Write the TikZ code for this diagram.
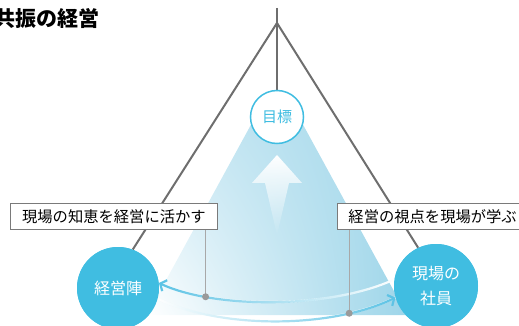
\documentclass[tikz,border=0pt]{standalone}
\usepackage{fontspec}
\setmainfont{Noto Sans CJK JP}
\usetikzlibrary{arrows.meta,fadings,shadings}
\definecolor{cy}{HTML}{40BDE1}
\definecolor{arcc}{HTML}{5CC3E5}
\definecolor{lineg}{HTML}{6E6E6E}
\definecolor{leadg}{HTML}{A8A8A8}
\definecolor{dotg}{HTML}{9A9A9A}
\definecolor{boxg}{HTML}{7A7A7A}
\definecolor{bUL}{HTML}{CCE9F4}
\definecolor{bUR}{HTML}{A2D7EA}
\definecolor{bLR}{HTML}{9DD5E9}
\tikzfading[name=fadeR, left color=transparent!0, middle color=transparent!20, right color=transparent!100]
\tikzfading[name=fadeL, left color=transparent!100, middle color=transparent!45, right color=transparent!0]
\tikzfading[name=fadeD, top color=transparent!0, middle color=transparent!25, bottom color=transparent!100]
\tikzset{
  tri/.style={draw=lineg, line width=2pt},
  labelbox/.style={draw=boxg, line width=0.9pt, fill=white, minimum height=26pt, inner xsep=10pt, inner ysep=0pt, font=\fontsize{15.3}{18}\selectfont, text=black},
  bigcirc/.style={circle, fill=cy, text=white, inner sep=0pt, font=\fontsize{16}{25}\selectfont, align=center},
  arcline/.style={line width=2.2pt},
  leader/.style={draw=leadg, line width=1pt},
  dotmark/.style={circle, fill=dotg, inner sep=0pt, minimum size=7pt}
}
\begin{document}
\begin{tikzpicture}[x=1pt,y=-1pt]
\useasboundingbox (0,0) rectangle (519,326);
% title (cut at the left edge as in the reference)
\node[anchor=west, inner sep=0pt, font=\fontsize{21}{24}\selectfont\bfseries] (title) at (-6,19) {共振の経営};
% coordinates
\coordinate (top) at (277,8);
\coordinate (apex) at (277,23);
% circles (placed first to get anchors; drawn later on top)
\path node[bigcirc, minimum size=82pt] (lc) at (118,288) {}
      node[bigcirc, minimum size=84pt] (rc) at (436,286) {}
      node[circle, minimum size=53pt, inner sep=0pt] (goal) at (277,117) {};
% beam
\shade[upper left=bUL, upper right=bUR, lower left=white, lower right=bLR]
  (259,110) -- (295,110) -- (407,315) -- (147,315) -- cycle;
% white up arrow in beam
\fill[white, path fading=fadeD]
  (277,155) -- (302,183) -- (289,183) -- (277,235) -- (265,183) -- (252,183) -- cycle;
% triangle lines
\draw[tri] (apex) -- (lc.69);
\draw[tri] (apex) -- (rc.115);
\draw[tri] (top) -- (goal.north);
% upper arc (towards management)
\draw[white, arcline] (rc.171) .. controls (330,309) and (215,309) .. (lc.7);
\draw[arcc, arcline, path fading=fadeR, -{Straight Barb[length=5pt,width=12pt]}]
  (rc.171) .. controls (330,309) and (215,309) .. coordinate[pos=0.77] (dotL) (lc.7);
% lower arc (towards field staff)
\draw[white, arcline] (lc.-15) .. controls (220,329) and (330,329) .. (rc.-164);
\draw[arcc, arcline, path fading=fadeL, -{Straight Barb[length=5pt,width=12pt]}]
  (lc.-15) .. controls (220,329) and (330,329) .. coordinate[pos=0.79] (dotR) (rc.-164);
% label boxes
\node[labelbox, anchor=west, minimum width=207pt] (lbox) at (10,216.5) {現場の知恵を経営に活かす};
\node[labelbox, anchor=west, inner xsep=11pt] (rbox) at (337,216.5) {経営の視点を現場が学ぶ};
% leaders and dots
\draw[leader] (lbox.south -| dotL) -- (dotL);
\draw[leader] (rbox.south -| dotR) -- (dotR);
\node[dotmark] (dl) at (dotL) {};
\node[dotmark] (dr) at (dotR) {};
% circles drawn
\node[bigcirc, minimum size=82pt] at (lc) {経営陣};
\node[bigcirc, minimum size=84pt] at (rc) {現場の\\社員};
\node[circle, minimum size=53pt, inner sep=0pt, draw=cy, line width=1.5pt, fill=white, text=cy, font=\fontsize{15}{18}\selectfont] at (goal) {目標};
\end{tikzpicture}
\end{document}
